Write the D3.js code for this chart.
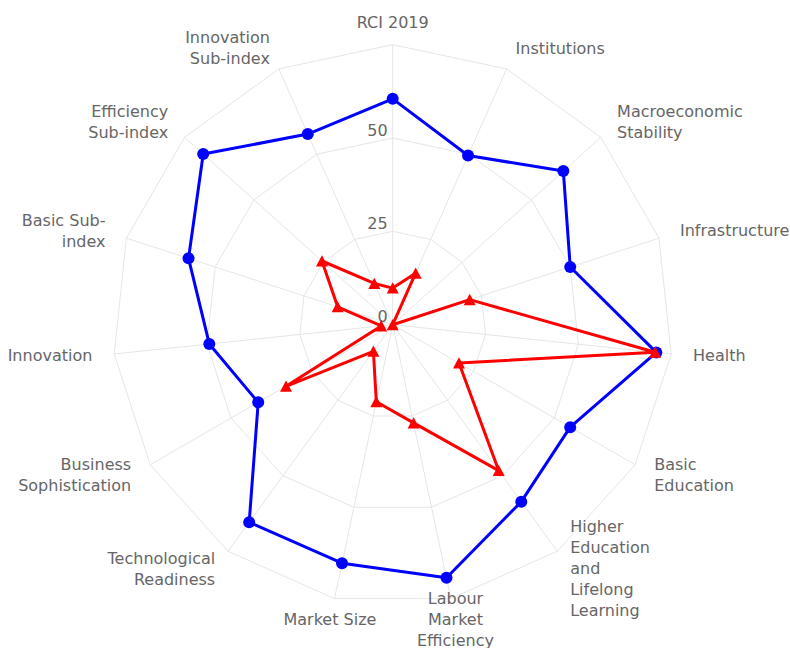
<!DOCTYPE html>
<html><head><meta charset="utf-8">
<script src="https://cdn.jsdelivr.net/npm/d3@7"></script>
<style>body{margin:0;background:#fff} svg{display:block} text{font-family:"DejaVu Sans",sans-serif}</style>
</head><body><svg id="c" width="790" height="648"></svg>
<script>
const categories = ["RCI 2019","Institutions","Macroeconomic Stability","Infrastructure","Health","Basic Education","Higher Education and Lifelong Learning","Labour Market Efficiency","Market Size","Technological Readiness","Business Sophistication","Innovation","Basic Sub-index","Efficiency Sub-index","Innovation Sub-index"];
const seriesBlue = [60.5,49.6,61.5,50,71,54.9,58.6,69.3,65.3,65.4,41.6,49.4,57.5,68.3,55.9];
const seriesRed = [9.8,15.1,0,21.7,70.7,20.5,48.3,26.9,21.1,8.8,33,3.1,15.5,25.5,12.1];
const yTicks = [0,25,50,75];
const yTickLabels = ["0","25","50"];

const W = 790, H = 648;
const cx = 392.7, cy = 324.7, R = 280;
const svg = d3.select("#c");
const n = categories.length;
const r = d3.scaleLinear().domain([0, 75]).range([0, R]);
const a = d3.scaleLinear().domain([0, n]).range([0, 2 * Math.PI]);
const g = svg.append("g").attr("transform", `translate(${cx},${cy})`);
const pt = (i, v) => [Math.sin(a(i)) * r(v), -Math.cos(a(i)) * r(v)];

// grid rings
const ringLine = d3.lineRadial().angle((d, i) => a(i)).radius(d => r(d)).curve(d3.curveLinearClosed);
yTicks.filter(t => t > 0).forEach(t => {
  g.append("path").attr("d", ringLine(categories.map(() => t)))
    .attr("fill", "none").attr("stroke", "#e6e6e6").attr("stroke-width", 1);
});
// spokes
categories.forEach((c, i) => {
  const [x, y] = pt(i, 75);
  g.append("line").attr("x1", 0).attr("y1", 0).attr("x2", x).attr("y2", y)
    .attr("stroke", "#e6e6e6").attr("stroke-width", 1);
});
// y labels
yTickLabels.forEach((lab, k) => {
  g.append("text").attr("x", -5).attr("y", -r(yTicks[k]) - 2.5)
    .attr("text-anchor", "end").attr("fill", "#666666").attr("font-size", 16).text(lab);
});

const seriesLine = d3.lineRadial().angle((d, i) => a(i)).radius(d => r(d)).curve(d3.curveLinearClosed);
// blue
g.append("path").attr("d", seriesLine(seriesBlue)).attr("fill", "none")
  .attr("stroke", "#0000ff").attr("stroke-width", 3).attr("stroke-linejoin", "round");
g.selectAll(".bm").data(seriesBlue).enter().append("circle")
  .attr("cx", (d, i) => pt(i, d)[0]).attr("cy", (d, i) => pt(i, d)[1])
  .attr("r", 6).attr("fill", "#0000ff");
// red
g.append("path").attr("d", seriesLine(seriesRed)).attr("fill", "none")
  .attr("stroke", "#ff0000").attr("stroke-width", 3).attr("stroke-linejoin", "round");
g.selectAll(".rm").data(seriesRed).enter().append("path")
  .attr("d", (d, i) => {
    const [x, y] = pt(i, d);
    return `M${x},${y - 5.8}L${x + 6},${y + 5.5}L${x - 6},${y + 5.5}Z`;
  }).attr("fill", "#ff0000");

// category labels with wrapping
const meas = svg.append("text").attr("font-size", 16).attr("visibility", "hidden");
const tw = s => { meas.text(s); return meas.node().getComputedTextLength(); };
function wrap(label, maxW) {
  const tokens = [];
  label.split(" ").forEach((w, wi) => {
    w.split(/(?<=-)/).forEach((p, pi) => tokens.push({ t: p, sp: wi > 0 && pi === 0 }));
  });
  const lines = [];
  let cur = null;
  tokens.forEach(tok => {
    if (cur === null) { cur = tok.t; return; }
    const cand = cur + (tok.sp ? " " : "") + tok.t;
    if (tw(cand) <= maxW) cur = cand; else { lines.push(cur); cur = tok.t; }
  });
  lines.push(cur);
  return lines;
}
categories.forEach((c, i) => {
  const deg = i * 360 / n;
  const x = Math.sin(a(i)) * (R + 22), y = -Math.cos(a(i)) * (R + 22);
  const anchor = (deg > 20 && deg < 160) ? "start" : (deg > 200 && deg < 340) ? "end" : "middle";
  const lines = wrap(c, 96);
  const t = g.append("text").attr("text-anchor", anchor).attr("fill", "#666666").attr("font-size", 16);
  lines.forEach((ln, j) => {
    t.append("tspan").attr("x", x).attr("y", y + 5 + (j - (lines.length - 1) / 2) * 21).text(ln);
  });
});
meas.remove();
</script></body></html>
